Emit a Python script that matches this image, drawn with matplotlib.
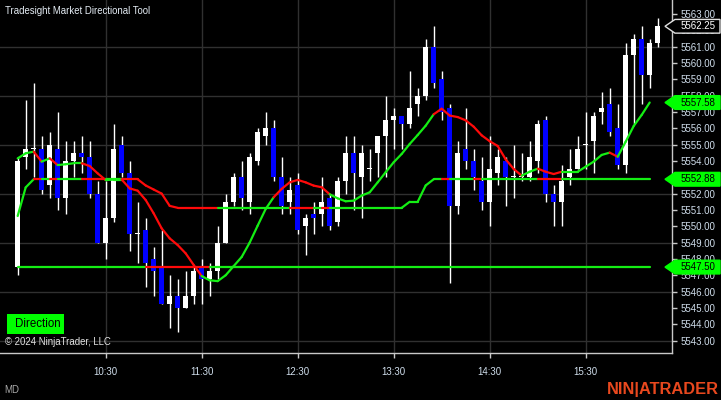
import numpy as np
import pandas as pd
import matplotlib
matplotlib.use('Agg')
import matplotlib.pyplot as plt
import matplotlib.transforms as mtransforms
from matplotlib.collections import LineCollection
from matplotlib.patches import Polygon, Rectangle

# 5 minute bars
bar_times = pd.date_range('2024-06-20 09:35', periods=81, freq='5min')

opens = [5547.5, 5554.25, 5554.75, 5554.75, 5552.5, 5554.75, 5551.75, 5554.0, 5554.5, 5554.25,
         5552.0, 5549.0, 5550.5, 5555.0, 5553.25, 5549.5, 5549.75, 5548.0, 5547.5, 5545.25,
         5545.75, 5545.0, 5545.75, 5547.5, 5546.75, 5547.25, 5549.0, 5551.5, 5553.0, 5551.5,
         5554.0, 5555.5, 5556.0, 5553.0, 5551.5, 5552.5, 5550.0, 5550.75, 5550.75, 5551.75,
         5550.25, 5552.75, 5554.5, 5553.0, 5553.5, 5554.5, 5555.5, 5556.5, 5556.75, 5556.25,
         5557.5, 5558.0, 5561.0, 5559.0, 5557.25, 5551.25, 5554.75, 5554.0, 5552.75, 5551.5,
         5553.25, 5554.0, 5553.0, 5553.0, 5553.0, 5554.0, 5556.5, 5552.0, 5551.5, 5553.0,
         5553.5, 5555.0, 5555.25, 5557.0, 5557.5, 5556.0, 5553.75, 5560.5, 5561.5, 5559.25,
         5561.25]
highs = [5554.25, 5557.75, 5558.75, 5555.5, 5555.75, 5557.0, 5555.25, 5555.25, 5555.5, 5555.25,
         5552.75, 5552.75, 5556.25, 5555.5, 5554.0, 5551.5, 5550.5, 5548.75, 5549.75, 5547.0,
         5546.75, 5547.25, 5547.5, 5548.0, 5547.75, 5550.0, 5552.0, 5553.25, 5554.0, 5554.5,
         5556.0, 5557.0, 5556.5, 5554.25, 5553.0, 5553.25, 5550.75, 5551.5, 5553.0, 5552.0,
         5553.0, 5555.5, 5555.5, 5555.0, 5554.75, 5555.5, 5558.0, 5557.25, 5556.75, 5559.5,
         5558.5, 5561.5, 5562.25, 5559.5, 5557.5, 5555.25, 5557.25, 5554.75, 5554.25, 5555.5,
         5554.75, 5554.25, 5555.0, 5554.5, 5555.25, 5556.5, 5556.75, 5552.5, 5553.75, 5554.75,
         5555.5, 5557.0, 5557.0, 5558.25, 5558.5, 5557.5, 5561.25, 5561.75, 5562.25, 5561.5,
         5562.75]
lows = [5547.0, 5553.5, 5553.0, 5552.0, 5551.75, 5551.0, 5550.75, 5553.0, 5553.25, 5551.75,
        5549.0, 5548.0, 5550.25, 5553.0, 5548.5, 5547.75, 5546.25, 5545.75, 5545.25, 5543.75,
        5543.5, 5545.0, 5545.25, 5545.25, 5545.75, 5546.75, 5549.0, 5551.25, 5551.0, 5550.75,
        5553.75, 5555.0, 5552.75, 5550.75, 5550.75, 5549.5, 5548.25, 5549.5, 5550.0, 5549.75,
        5550.0, 5552.0, 5551.0, 5550.5, 5552.75, 5553.0, 5553.0, 5554.75, 5554.75, 5556.0,
        5556.75, 5557.75, 5558.5, 5556.5, 5546.5, 5550.75, 5553.5, 5552.25, 5551.0, 5550.0,
        5552.5, 5551.25, 5551.75, 5552.75, 5552.75, 5553.25, 5551.5, 5550.0, 5550.0, 5552.5,
        5553.5, 5553.5, 5553.25, 5556.25, 5555.5, 5553.5, 5553.25, 5556.25, 5557.5, 5558.5,
        5561.0]
closes = [5554.0, 5554.75, 5554.75, 5552.25, 5555.0, 5551.75, 5554.0, 5554.5, 5554.25, 5552.0,
          5549.0, 5550.5, 5554.75, 5553.25, 5549.5, 5549.5, 5547.75, 5547.25, 5545.25, 5545.75,
          5545.0, 5545.75, 5547.25, 5546.75, 5547.25, 5549.0, 5551.5, 5553.0, 5551.75, 5554.25,
          5555.75, 5556.0, 5553.0, 5551.25, 5552.25, 5549.75, 5550.5, 5550.5, 5551.5, 5550.0,
          5552.75, 5554.5, 5553.25, 5554.5, 5553.5, 5555.5, 5556.5, 5556.75, 5556.25, 5557.25,
          5558.0, 5561.0, 5558.75, 5557.0, 5551.25, 5554.5, 5554.0, 5553.0, 5551.5, 5553.5,
          5554.25, 5553.0, 5553.0, 5553.0, 5554.25, 5556.25, 5552.0, 5551.5, 5552.75, 5553.5,
          5554.75, 5555.0, 5556.75, 5557.25, 5555.75, 5553.75, 5560.5, 5561.5, 5559.25, 5561.25,
          5562.25]

# indicator plots (bars 0..79)
fast_line = [5554.16, 5554.47, 5554.57, 5553.96, 5554.16, 5553.75, 5553.8, 5553.86, 5553.86, 5553.69,
             5553.24, 5552.83, 5552.86, 5552.86, 5552.32, 5552.18, 5551.61, 5550.79, 5549.87, 5549.26,
             5548.85, 5548.34, 5547.63, 5546.95, 5546.69, 5546.64, 5547.0, 5547.56, 5548.12, 5549.0,
             5550.04, 5551.06, 5551.78, 5552.29, 5552.69, 5552.84, 5552.69, 5552.49, 5552.39, 5551.96,
             5551.71, 5551.53, 5551.57, 5551.88, 5552.08, 5552.69, 5553.31, 5553.92, 5554.43, 5555.04,
             5555.59, 5556.16, 5556.86, 5557.2, 5556.78, 5556.69, 5556.49, 5556.1, 5555.57, 5555.21,
             5554.92, 5554.1, 5553.51, 5553.1, 5553.34, 5553.53, 5553.34, 5553.2, 5553.34, 5553.34,
             5553.34, 5553.65, 5553.96, 5554.37, 5554.51, 5554.26, 5555.18, 5556.14, 5556.82, 5557.58]
mid_line = [5550.63, 5552.38] + [5552.88] * 14 + [5552.5, 5552.25, 5552.0, 5551.25] \
           + [5551.13] * 29 + [5551.5, 5551.5, 5552.5] + [5552.88] * 28
open_line = [5547.5] * 80

last_price = 5562.25

GREEN = '#14EE14'
RED = '#FF0A0A'
TXT = '#CFDDEB'
FS = 7

plt.rcParams['font.family'] = ['Liberation Sans', 'DejaVu Sans']

fig = plt.figure(figsize=(7.21, 4.0), dpi=100, facecolor='black')
ax = fig.add_axes([0, 0.1168, 0.9316, 0.8832], facecolor='black')

x = np.arange(len(opens))
o = np.array(opens)
c = np.array(closes)
up = c >= o

# grid
grid_levels = np.arange(5543, 5562, 3)
tick_bars = [i for i, t in enumerate(bar_times) if t.minute == 30]
for g in grid_levels:
    ax.axhline(g, color='#303030', lw=1, zorder=0)
for b in tick_bars:
    ax.axvline(b, color='#303030', lw=1, zorder=0)

# candles
ax.vlines(x, lows, highs, color='white', lw=1, zorder=2)
body = np.maximum(np.abs(c - o), 0.06)
ax.bar(x, body, bottom=np.minimum(o, c), width=0.55,
       color=np.where(up, 'white', '#0000FF'), linewidth=0, zorder=3)


def colored_line(vals):
    vals = np.array(vals)
    xs = np.arange(len(vals))
    segs = [[(xs[i - 1], vals[i - 1]), (xs[i], vals[i])] for i in range(1, len(vals))]
    cols = [GREEN if c[i] >= vals[i] else RED for i in range(1, len(vals))]
    lc = LineCollection(segs, colors=cols, linewidths=1.6, capstyle='round', zorder=4)
    ax.add_collection(lc)


colored_line(open_line)
colored_line(mid_line)
colored_line(fast_line)

ax.set_xlim(-2.21, 81.75)
ax.set_ylim(5542.22, 5563.86)

for s in ['left', 'top']:
    ax.spines[s].set_visible(False)
for s in ['right', 'bottom']:
    ax.spines[s].set_color('#C8C8C8')
    ax.spines[s].set_linewidth(1)

ax.yaxis.tick_right()
ax.set_yticks(np.arange(5543, 5564, 1))
ax.set_yticklabels(['%.2f' % v for v in np.arange(5543, 5564, 1)])
ax.set_xticks(tick_bars)
ax.set_xticklabels([bar_times[b].strftime('%H:%M') for b in tick_bars])
ax.tick_params(axis='both', colors='#C8C8C8', labelcolor=TXT, labelsize=FS,
               length=3.6, width=1)
ax.tick_params(axis='y', pad=2.8)
ax.tick_params(axis='x', pad=6)

# price tags on the right axis
tr = mtransforms.blended_transform_factory(fig.transFigure, ax.transData)
W = 721.0


def price_tag(val, face, edge, tcol):
    h = 0.42
    pts = [(665 / W, val), (675 / W, val + h), (720 / W, val + h),
           (720 / W, val - h), (675 / W, val - h)]
    fig.add_artist(Polygon(pts, closed=True, transform=tr, facecolor=face,
                           edgecolor=edge, lw=1, zorder=5, clip_on=False))
    fig.text(680.5 / W, val, '%.2f' % val, transform=tr, color=tcol,
             fontsize=FS, va='center', ha='left', zorder=6)


price_tag(last_price, 'black', '#E0E0E0', 'white')
price_tag(fast_line[-1], '#00FF00', '#00FF00', 'black')
price_tag(mid_line[-1], '#00FF00', '#00FF00', 'black')
price_tag(open_line[-1], '#00FF00', '#00FF00', 'black')

# texts
fig.text(5 / W, 1 - 11 / 400, 'Tradesight Market Directional Tool', color='#E4ECF4',
         fontsize=6.9, va='center', ha='left')
fig.add_artist(Rectangle((6.7 / W, 1 - 334 / 400), 57.3 / W, 20 / 400,
                         transform=fig.transFigure, facecolor='#00FF00', lw=0, zorder=5))
fig.text(37.5 / W, 1 - 324 / 400, 'Direction', color='black', fontsize=8.3,
         va='center', ha='center', zorder=6)
fig.text(5 / W, 1 - 342 / 400, '\u00a9 2024 NinjaTrader, LLC', color='#E0E0E0',
         fontsize=6.9, va='center', ha='left')
fig.text(4 / W, 1 - 390 / 400, 'MD', color='#A8A8A8', fontsize=7, va='center', ha='left')
fig.text(719 / W, 1 - 389.5 / 400, 'NIN|ATRADER', color='#E8481E', fontsize=11.8,
         fontweight='bold', va='center', ha='right')

fig.savefig('out.png', dpi=100, facecolor='black')
